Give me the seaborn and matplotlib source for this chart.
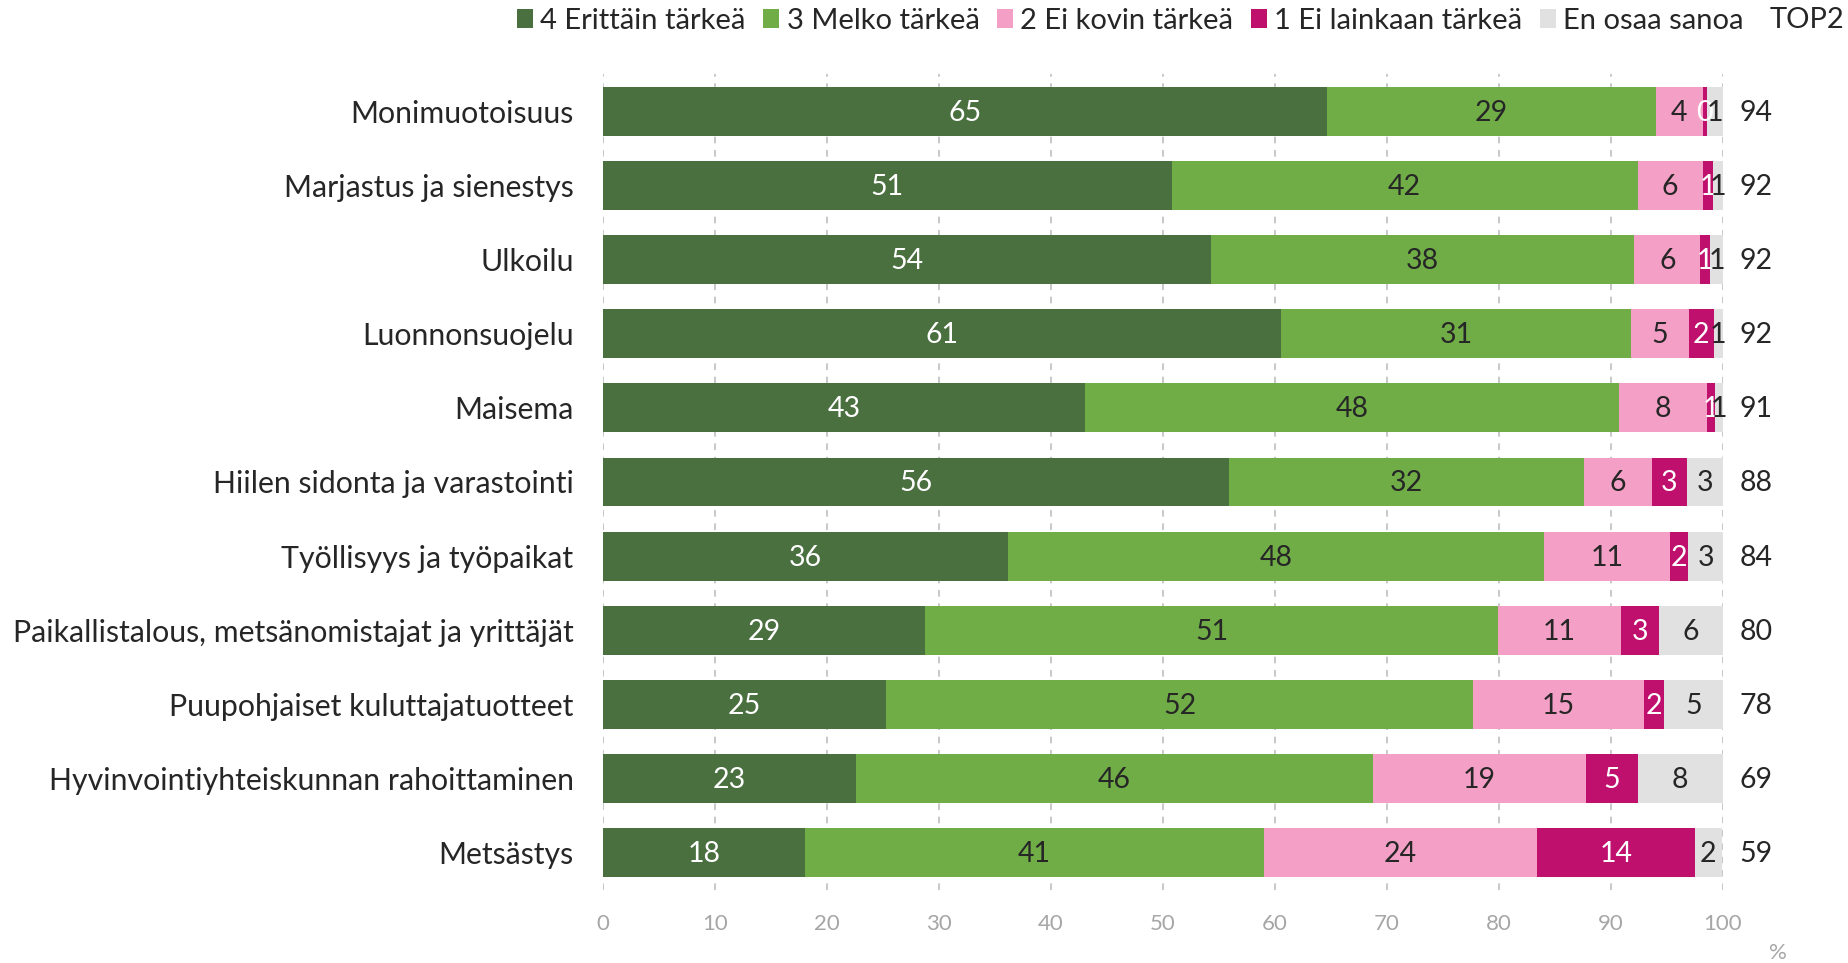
import numpy as np
import pandas as pd
import matplotlib
matplotlib.use("Agg")
import matplotlib.pyplot as plt
from matplotlib.patches import Patch
import seaborn as sns

categories = [
    "Monimuotoisuus",
    "Marjastus ja sienestys",
    "Ulkoilu",
    "Luonnonsuojelu",
    "Maisema",
    "Hiilen sidonta ja varastointi",
    "Työllisyys ja työpaikat",
    "Paikallistalous, metsänomistajat ja yrittäjät",
    "Puupohjaiset kuluttajatuotteet",
    "Hyvinvointiyhteiskunnan rahoittaminen",
    "Metsästys",
]
series_names = ["4 Erittäin tärkeä", "3 Melko tärkeä", "2 Ei kovin tärkeä",
                "1 Ei lainkaan tärkeä", "En osaa sanoa"]
v4 = [64.7, 50.8, 54.3, 60.6, 43.1, 55.9, 36.2, 28.8, 25.3, 22.6, 18.1]
v3 = [29.3, 41.6, 37.8, 31.2, 47.6, 31.7, 47.8, 51.1, 52.4, 46.2, 40.9]
v2 = [4.2, 5.8, 5.9, 5.2, 7.9, 6.1, 11.3, 11.0, 15.3, 19.0, 24.4]
v1 = [0.4, 0.9, 0.9, 2.2, 0.7, 3.1, 1.6, 3.4, 1.8, 4.6, 14.1]
v0 = [1.4, 0.9, 1.1, 0.8, 0.8, 3.2, 3.2, 5.7, 5.2, 7.6, 2.4]
top2 = [94, 92, 92, 92, 91, 88, 84, 80, 78, 69, 59]
x_ticks = [0, 10, 20, 30, 40, 50, 60, 70, 80, 90, 100]

colors = ["#4A7040", "#70AD47", "#F4A0C6", "#C0106E", "#E1E1E1"]
label_colors = ["white", "#262626", "#262626", "white", "#262626"]
TXT = "#262626"
FONT = "Lato"

sns.set_theme(style="white")
plt.rcParams["font.family"] = [FONT, "DejaVu Sans"]

values = np.array([v4, v3, v2, v1, v0])
cum = np.cumsum(values, axis=0)

fig = plt.figure(figsize=(18.49, 9.63), dpi=100)
ax = fig.add_axes([602.7 / 1849, 1 - 890 / 963, (1722.7 - 602.7) / 1849, (890 - 74) / 963])

# dashed gridlines behind bars
for t in x_ticks:
    ax.axvline(t, color="#BFBFBF", lw=1.2, ls=(0, (4, 4)), zorder=0)

# stacked bars: draw cumulative layers from the outermost inwards
for k in range(len(series_names) - 1, -1, -1):
    df = pd.DataFrame({"cat": categories, "val": cum[k]})
    sns.barplot(data=df, x="val", y="cat", order=categories, orient="h",
                color=colors[k], saturation=1, width=0.66, errorbar=None,
                ax=ax, zorder=2, linewidth=0)

# segment labels
for k in range(len(series_names)):
    starts = cum[k] - values[k]
    for i, cat in enumerate(categories):
        ax.text(starts[i] + values[k][i] / 2, i + 0.02, f"{int(round(values[k][i]))}",
                ha="center", va="center", color=label_colors[k],
                fontsize=20.5, zorder=5)

# TOP2 column
for i, t in enumerate(top2):
    ax.text(103, i + 0.02, str(t), ha="center", va="center", color=TXT,
            fontsize=20.5, clip_on=False)

ax.set_xlim(0, 100)
ax.set_ylim(10.5, -0.5)
ax.set_xticks(x_ticks)
ax.set_xticklabels([str(t) for t in x_ticks])
ax.set_xlabel("")
ax.set_ylabel("")
for s in ax.spines.values():
    s.set_visible(False)
ax.tick_params(axis="y", length=0, pad=21, labelsize=21.8, labelcolor=TXT)
ax.tick_params(axis="x", length=0, pad=17, labelsize=16, labelcolor="#A6A6A6")

fig.text(1778 / 1849, 1 - 953 / 963, "%", ha="center", va="center",
         color="#A6A6A6", fontsize=16)

handles = [Patch(facecolor=c, edgecolor="none") for c in colors]
fig.legend(handles, series_names, loc="upper left",
           bbox_to_anchor=(517 / 1849, 1 - 8 / 963), ncol=5, frameon=False,
           fontsize=21, handlelength=0.55, handleheight=0.65, handletextpad=0.25,
           columnspacing=0.6, borderpad=0, borderaxespad=0, labelcolor=TXT)
fig.text(1844 / 1849, 1 - 20 / 963, "TOP2", ha="right", va="center",
         color=TXT, fontsize=21)

fig.savefig("out.png", dpi=100)
